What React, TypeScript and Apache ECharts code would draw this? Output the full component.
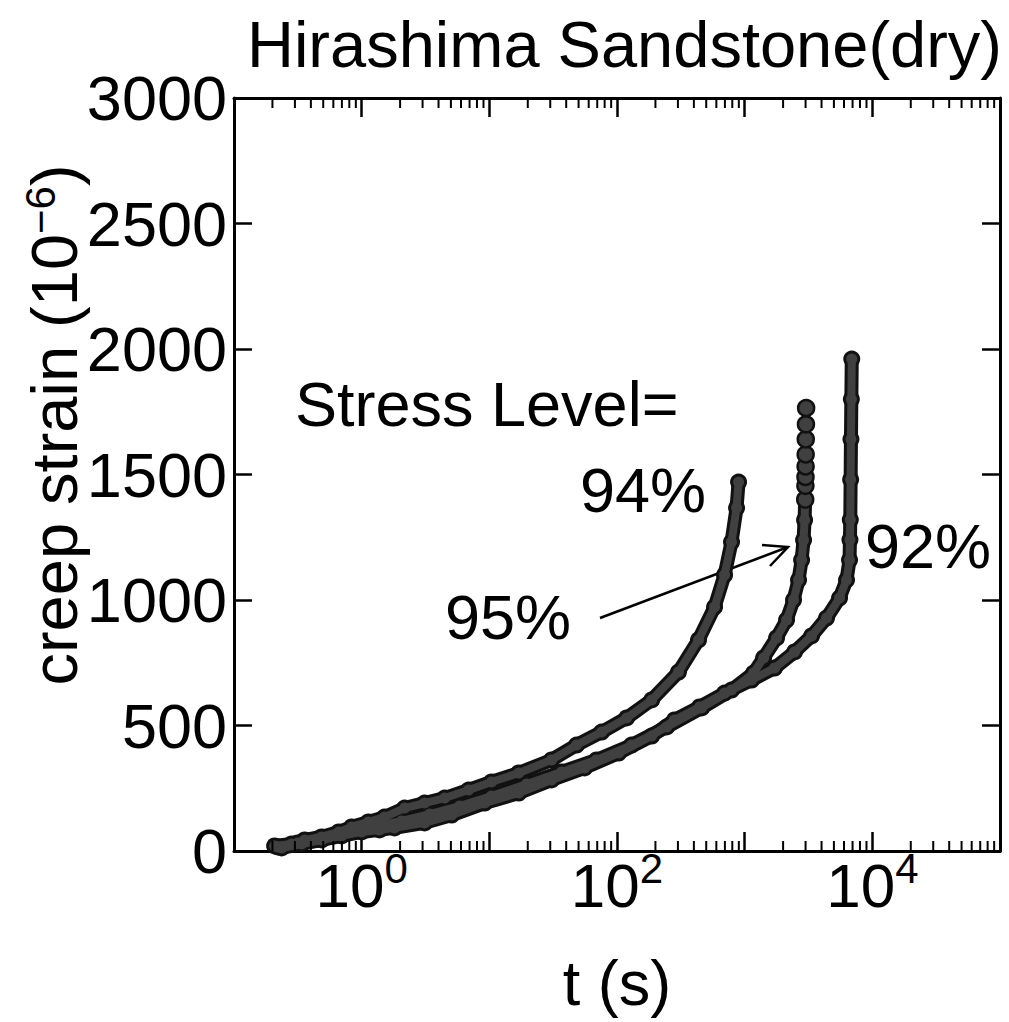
import React, { useEffect, useRef } from "react";
import * as echarts from "echarts";

// Creep curves of Hirashima sandstone (dry) at three stress levels.
// t in seconds, strain in 1e-6.
const t94 = [0.208, 0.283, 0.358, 0.486, 0.661, 0.835, 1.13, 1.51, 2.17, 3.11, 4.47, 6.88, 10.4, 17.0, 30.7, 48.2, 75.8, 119, 187, 303, 435, 581, 696, 789, 864, 896];
const strain94 = [20, 28, 44, 56, 76, 96, 116, 135, 171, 191, 211, 243, 275, 311, 363, 422, 474, 530, 602, 713, 841, 972, 1100, 1231, 1367, 1470];

const t95 = [0.22, 0.315, 0.452, 0.649, 0.931, 1.33, 2.06, 3.41, 5.85, 10.4, 19.6, 36.8, 69.2, 130, 245, 460, 789, 1174, 1407, 1778, 2128, 2414, 2642, 2792, 2893, 2946, 2980];
const strain95 = [16, 32, 48, 68, 88, 100, 120, 147, 179, 219, 267, 315, 363, 422, 494, 570, 641, 709, 769, 849, 920, 1000, 1080, 1159, 1239, 1319, 1400];
// sparse final readings of the 95% test (just before failure)
const t95Tail = [2980, 2990, 2995, 3000, 3005, 3010, 3020, 3030];
const strain95Tail = [1400, 1455, 1490, 1532, 1580, 1640, 1700, 1765];

const t92 = [0.236, 0.339, 0.486, 0.697, 1.0, 1.38, 1.81, 3.11, 5.07, 9.19, 17.0, 30.7, 55.7, 103, 187, 282, 443, 696, 1133, 1714, 2459, 3342, 4377, 5537, 6278, 6628, 6680, 6720, 6760, 6800, 6850, 6900];
const strain92 = [12, 28, 44, 60, 76, 84, 92, 112, 143, 191, 231, 283, 331, 390, 458, 522, 574, 629, 681, 729, 793, 857, 928, 1008, 1080, 1159, 1240, 1320, 1480, 1640, 1800, 1960];

const X_MIN = 0.1;
const X_MAX = 1e5;
const Y_MIN = 0;
const Y_MAX = 3000;
const Y_STEP = 500;
const labelledExponents = [0, 2, 4];
const decades = [-1, 0, 1, 2, 3, 4];
const minorMultipliers = [2, 3, 4, 5, 6, 7, 8, 9];

const FONT = "'Liberation Sans', Arial, Helvetica, sans-serif";
const INK = "#000";
const BAND_EDGE = "#111";
const BAND_FILL = "#404040";

const zip = (xs: number[], ys: number[]) => xs.map((x, i) => [x, ys[i]]);

function bandSeries(t: number[], s: number[]) {
  const data = zip(t, s);
  return [
    {
      type: "line",
      data,
      symbol: "circle",
      symbolSize: 17,
      itemStyle: { color: BAND_EDGE },
      lineStyle: { width: 14, color: BAND_EDGE, cap: "round", join: "round" },
      silent: true,
      z: 2,
    },
    {
      type: "line",
      data,
      symbol: "circle",
      symbolSize: 11,
      itemStyle: { color: BAND_FILL },
      lineStyle: { width: 8, color: BAND_FILL, cap: "round", join: "round" },
      silent: true,
      z: 3,
    },
  ];
}

export default function App() {
  const ref = useRef<HTMLDivElement>(null);

  useEffect(() => {
    if (!ref.current) return;
    const chart = echarts.init(ref.current, null, { renderer: "svg" });

    const minorTicks: number[][] = [];
    decades.forEach((d) =>
      minorMultipliers.forEach((m) => minorTicks.push([m * Math.pow(10, d), Y_MIN]))
    );

    const axisLine = { show: true, onZero: false, lineStyle: { color: INK, width: 3 } };

    const xAxisBase = {
      type: "log",
      logBase: 10,
      min: X_MIN,
      max: X_MAX,
      splitLine: { show: false },
      axisLine,
      axisTick: { inside: true, length: 19, lineStyle: { color: INK, width: 2.5 } },
    };

    const yAxisBase = {
      type: "value",
      min: Y_MIN,
      max: Y_MAX,
      interval: Y_STEP,
      splitLine: { show: false },
      axisLine,
      axisTick: { inside: true, length: 18, lineStyle: { color: INK, width: 2.5 } },
    };

    const option = {
      animation: false,
      backgroundColor: "#fff",
      grid: { left: 234, right: 9, top: 98, bottom: 171 },
      xAxis: [
        {
          ...xAxisBase,
          position: "bottom",
          name: "t (s)",
          nameLocation: "middle",
          nameGap: 100,
          nameTextStyle: { fontSize: 63, fontFamily: FONT, color: INK },
          axisLabel: {
            margin: -4,
            formatter: (v: number) => {
              const e = Math.round(Math.log10(v));
              return labelledExponents.includes(e) ? `{b|10}{s|${e}}` : "";
            },
            rich: {
              b: { fontSize: 62, fontFamily: FONT, color: INK, lineHeight: 76 },
              s: { fontSize: 42, fontFamily: FONT, color: INK, lineHeight: 42, verticalAlign: "top" },
            },
          },
        },
        {
          ...xAxisBase,
          position: "top",
          axisLabel: { show: false },
        },
      ],
      yAxis: [
        {
          ...yAxisBase,
          position: "left",
          axisLabel: {
            margin: 7,
            fontSize: 63,
            fontFamily: FONT,
            color: INK,
            formatter: (v: number) => String(v),
          },
        },
        {
          ...yAxisBase,
          position: "right",
          axisLabel: { show: false },
        },
      ],
      series: [
        ...bandSeries(t94, strain94),
        ...bandSeries(t92, strain92),
        ...bandSeries(t95, strain95),
        {
          type: "line",
          data: zip(t95Tail, strain95Tail),
          symbol: "circle",
          symbolSize: 16,
          itemStyle: { color: BAND_FILL, borderColor: BAND_EDGE, borderWidth: 2.5 },
          lineStyle: { width: 2, color: BAND_EDGE },
          silent: true,
          z: 4,
        },
        {
          // minor log ticks (2..9 in each decade), bottom and top edges
          type: "custom",
          data: minorTicks,
          silent: true,
          z: 5,
          renderItem: (_p: any, api: any) => {
            const t = api.value(0);
            const b = api.coord([t, Y_MIN]);
            const u = api.coord([t, Y_MAX]);
            return {
              type: "group",
              children: [
                { type: "line", shape: { x1: b[0], y1: b[1], x2: b[0], y2: b[1] - 10 }, style: { stroke: INK, lineWidth: 2 } },
                { type: "line", shape: { x1: u[0], y1: u[1], x2: u[0], y2: u[1] + 10 }, style: { stroke: INK, lineWidth: 2 } },
              ],
            };
          },
        },
      ],
      graphic: [
        {
          type: "text",
          x: 1002,
          y: 44,
          style: { text: "Hirashima Sandstone(dry)", fontSize: 65, fontFamily: FONT, fill: INK, align: "right", verticalAlign: "middle" },
        },
        {
          type: "text",
          x: 54,
          y: 425,
          rotation: Math.PI / 2,
          style: {
            text: "{n|creep strain (10}{s|−6}{n|)}",
            align: "center",
            verticalAlign: "middle",
            rich: {
              n: { fontSize: 65, fontFamily: FONT, fill: INK, lineHeight: 70 },
              s: { fontSize: 42, fontFamily: FONT, fill: INK, lineHeight: 42, verticalAlign: "top" },
            },
          },
        },
        {
          type: "text",
          x: 295,
          y: 404,
          style: { text: "Stress Level=", fontSize: 63, fontFamily: FONT, fill: INK, align: "left", verticalAlign: "middle" },
        },
        {
          type: "text",
          x: 580,
          y: 490,
          style: { text: "94%", fontSize: 63, fontFamily: FONT, fill: INK, align: "left", verticalAlign: "middle" },
        },
        {
          type: "text",
          x: 445,
          y: 617,
          style: { text: "95%", fontSize: 63, fontFamily: FONT, fill: INK, align: "left", verticalAlign: "middle" },
        },
        {
          type: "text",
          x: 865,
          y: 546,
          style: { text: "92%", fontSize: 63, fontFamily: FONT, fill: INK, align: "left", verticalAlign: "middle" },
        },
        {
          type: "line",
          shape: { x1: 600, y1: 618, x2: 788, y2: 547 },
          style: { stroke: INK, lineWidth: 2.5 },
        },
        {
          type: "polyline",
          shape: { points: [[762, 545], [788, 547], [770, 566]] },
          style: { stroke: INK, lineWidth: 2.5, fill: null },
        },
      ],
    };

    chart.setOption(option as any);
    return () => chart.dispose();
  }, []);

  return (
    <div
      ref={ref}
      style={{ position: "absolute", left: 0, top: 0, width: 1009, height: 1022 }}
    />
  );
}
